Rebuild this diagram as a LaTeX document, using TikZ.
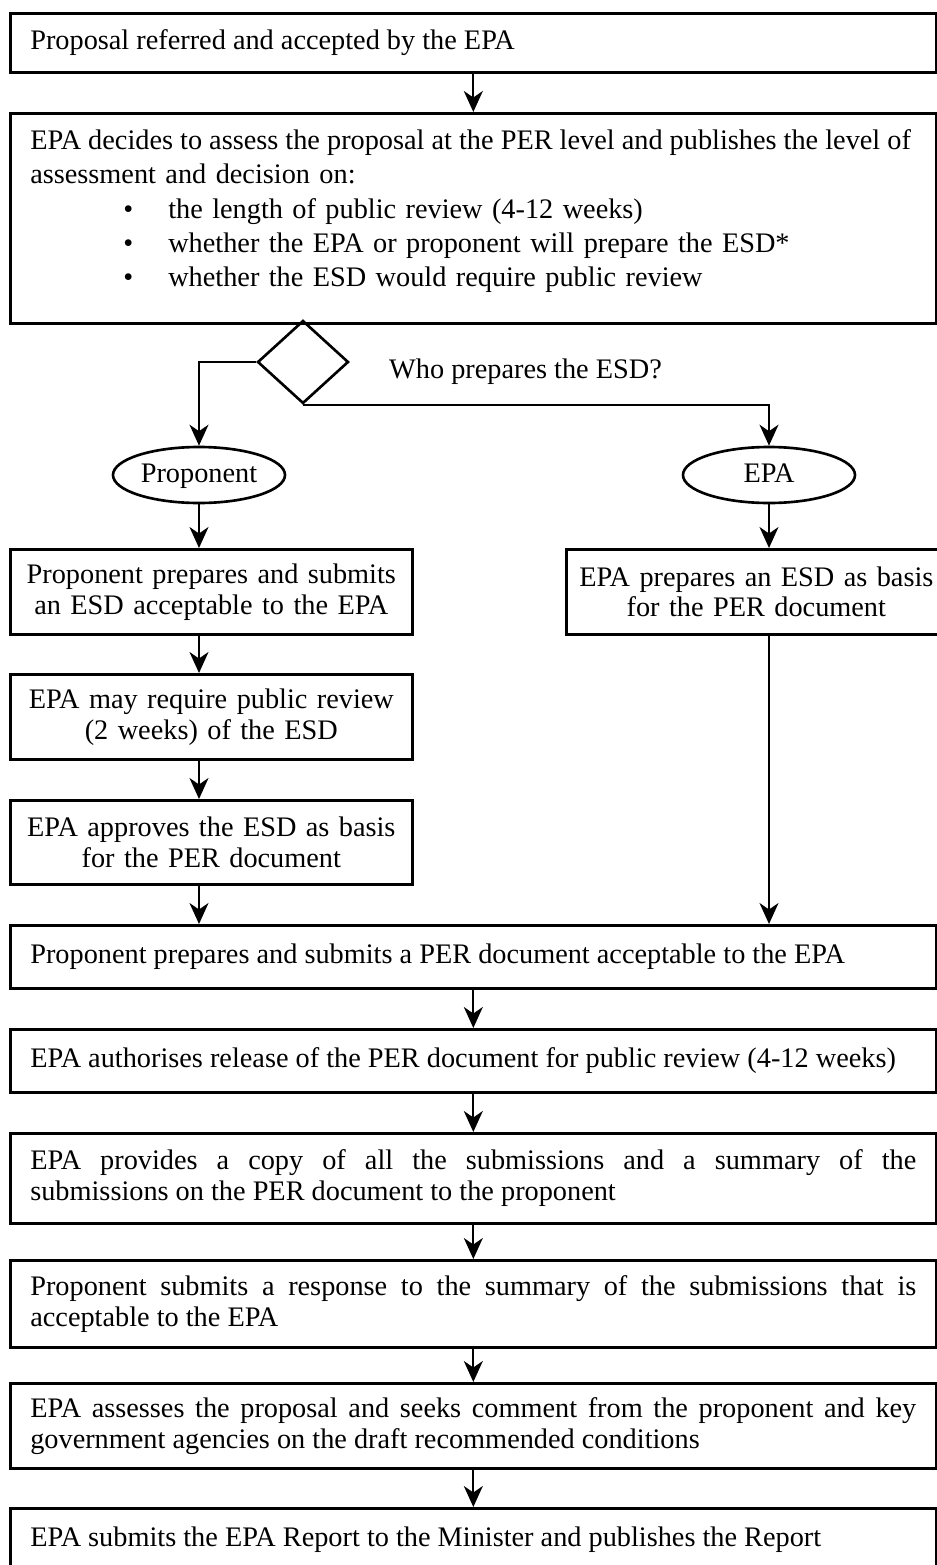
\documentclass[tikz,border=0pt]{standalone}
\usepackage{fontspec}
\setmainfont{Liberation Serif}
\usetikzlibrary{shapes.geometric,arrows.meta}
\newcommand{\boxfont}{\fontsize{16.1}{17.6}\selectfont\spaceskip=.25em plus 1.5em\relax}
\newcommand{\itm}{\hspace*{18.6mm}\makebox[9mm][l]{\textbullet}}
\tikzstyle{rect} = [rectangle, draw=black, line width=1.5pt, anchor=north west, inner xsep=4mm, inner ysep=0pt, font=\boxfont]
\tikzstyle{wide} = [rect, minimum width=185.2mm, text width=177.2mm, align=justify]
\tikzstyle{narrow} = [rect, inner xsep=2mm, text centered]
\tikzstyle{oval} = [ellipse, draw=black, line width=1.5pt, minimum width=34.4mm, minimum height=11.2mm, inner sep=0pt, text height=1em, text depth=0.1em]
\tikzstyle{arr} = [line width=1.1pt, -{Stealth[length=4.2mm,width=3.8mm,inset=1.3mm]}]

\begin{document}
\begin{tikzpicture}[x=0.2mm, y=-0.2mm, font=\boxfont]

            \useasboundingbox (0,0) rectangle (937,1565);
            \hyphenpenalty=10000 \tolerance=10000

            \node (b1) [wide, minimum height=11.8mm] at (9,12) {Proposal referred and accepted by the EPA};

            \node (b2) [wide, minimum height=42mm, align=left, font=\fontsize{16.1}{19.6}\selectfont] at (9,112) {\makebox[176.8mm][s]{\spaceskip=.25em minus .2em\relax EPA decides to assess the proposal at the PER level and publishes the level of}\\
            assessment and decision on:\\
            \itm the length of public review (4-12 weeks)\\
            \itm whether the EPA or proponent will prepare the ESD*\\
            \itm whether the ESD would require public review\\[-2.8mm]\mbox{}};

            %% who prepares

            \node (dia) [diamond, draw=black, line width=1.5pt, minimum width=18.2mm, minimum height=16.6mm, inner sep=0pt] at (303,362) {};
            \node (ask) [anchor=west] at (383,372) {Who prepares the ESD?};

            \node (prop) [oval] at (199,475) {Proponent};
            \node (epa) [oval] at (769,475) {EPA};

            \node (p1) [narrow, minimum width=80.4mm, minimum height=17mm, text width=76.4mm] at (9,548) {Proponent prepares and submits\\ an ESD acceptable to the EPA};
            \node (p2) [narrow, minimum width=80.4mm, minimum height=17mm, text width=76.4mm] at (9,673) {EPA may require public review\\ (2 weeks) of the ESD};
            \node (p3) [narrow, minimum width=80.4mm, minimum height=16.8mm, text width=76.4mm] at (9,799) {EPA approves the ESD as basis\\ for the PER document};
            \node (e1) [narrow, minimum width=76mm, minimum height=17mm, text width=72mm] at (565,548) {EPA prepares an ESD as basis\\ for the PER document};

            %% common path

            \node (per) [wide, minimum height=12.6mm] at (9,924) {Proponent prepares and submits a PER document acceptable to the EPA};
            \node (auth) [wide, minimum height=12.6mm] at (9,1028) {EPA authorises release of the PER document for public review (4-12 weeks)};
            \node (prov) [wide, minimum height=18mm] at (9,1132) {EPA provides a copy of all the submissions and a summary of the submissions on the PER document to the proponent};
            \node (resp) [wide, minimum height=17.4mm] at (9,1259) {Proponent submits a response to the summary of the submissions that is acceptable to the EPA};
            \node (asse) [wide, minimum height=17mm] at (9,1382) {EPA assesses the proposal and seeks comment from the proponent and key government agencies on the draft recommended conditions};
            \node (rep) [wide, minimum height=12.6mm] at (9,1507) {EPA submits the EPA Report to the Minister and publishes the Report};

            \draw [arr] (b1) -- (b2);
            \draw [arr] (dia.west) -| (prop.north);
            \draw [arr] (dia.south) -| (epa.north);
            \draw [arr] (prop.south) -- (prop.south |- p1.north);
            \draw [arr] (epa.south) -- (epa.south |- e1.north);
            \draw [arr] (p1.south -| prop) -- (p2.north -| prop);
            \draw [arr] (p2.south -| prop) -- (p3.north -| prop);
            \draw [arr] (p3.south -| prop) -- (per.north -| prop);
            \draw [arr] (e1.south -| epa) -- (per.north -| epa);
            \draw [arr] (per) -- (auth);
            \draw [arr] (auth) -- (prov);
            \draw [arr] (prov) -- (resp);
            \draw [arr] (resp) -- (asse);
            \draw [arr] (asse) -- (rep);

        \end{tikzpicture}
\end{document}
